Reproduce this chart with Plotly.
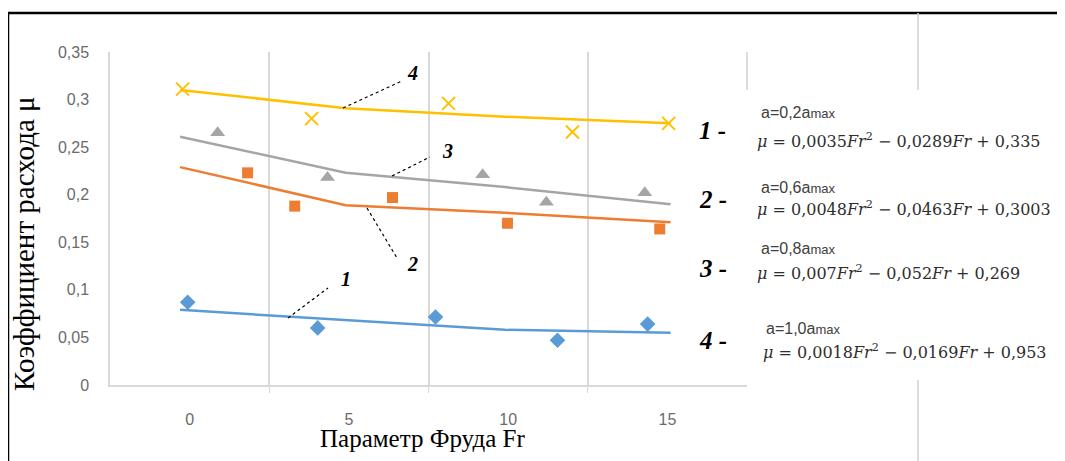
import plotly.graph_objects as go

# ---------------- data ----------------
x_ticks = [0, 5, 10, 15]
x_tick_labels = ["0", "5", "10", "15"]
y_ticks = [0, 0.05, 0.1, 0.15, 0.2, 0.25, 0.3, 0.35]
y_tick_labels = ["0", "0,05", "0,1", "0,15", "0,2", "0,25", "0,3", "0,35"]

# measured points
s1_x = [-0.06, 4.02, 7.72, 11.55, 14.38]      # blue diamonds
s1_y = [0.087, 0.060, 0.0715, 0.047, 0.064]
s2_x = [1.82, 3.3, 6.37, 9.98, 14.76]         # orange squares
s2_y = [0.223, 0.188, 0.197, 0.170, 0.164]
s3_x = [0.88, 4.33, 9.2, 11.2, 14.29]         # gray triangles
s3_y = [0.265, 0.218, 0.221, 0.192, 0.202]
s4_x = [-0.22, 3.83, 8.13, 12.02, 15.04]      # yellow crosses
s4_y = [0.311, 0.280, 0.296, 0.266, 0.275]

# trend lines
trend_x = [-0.3, 4.9, 9.9, 15.1]
t1_y = [0.079, 0.068, 0.058, 0.055]
t2_y = [0.229, 0.189, 0.181, 0.171]
t3_y = [0.261, 0.223, 0.208, 0.190]
t4_y = [0.310, 0.291, 0.282, 0.275]

curve_labels = ["1", "2", "3", "4"]
a_labels = ["a=0,2a", "a=0,6a", "a=0,8a", "a=1,0a"]
equations = [
    "<i>μ</i> = 0,0035<i>Fr</i><sup>2</sup> − 0,0289<i>Fr</i> + 0,335",
    "<i>μ</i> = 0,0048<i>Fr</i><sup>2</sup> − 0,0463<i>Fr</i> + 0,3003",
    "<i>μ</i> = 0,007<i>Fr</i><sup>2</sup> − 0,052<i>Fr</i> + 0,269",
    "<i>μ</i> = 0,0018<i>Fr</i><sup>2</sup> − 0,0169<i>Fr</i> + 0,953",
]

BLUE, ORANGE, GRAY, YELLOW = "#5B9BD5", "#ED7D31", "#A5A5A5", "#FFC000"

# ---------------- layout geometry (page pixels) ----------------
OFF = 8                      # default page body margin
W, H = 1065 - OFF, 461 - OFF
L, R, T, B = 110, 747, 52, 385   # plot area in page pixels


def px(x):
    return (x - L) / (R - L)


def py(y):
    return (B - y) / (B - T)


fig = go.Figure()

for tx, ty, c in [(trend_x, t1_y, BLUE), (trend_x, t2_y, ORANGE),
                  (trend_x, t3_y, GRAY), (trend_x, t4_y, YELLOW)]:
    fig.add_trace(go.Scatter(x=tx, y=ty, mode="lines",
                             line=dict(color=c, width=2.5), hoverinfo="skip"))

fig.add_trace(go.Scatter(x=s1_x, y=s1_y, mode="markers",
                         marker=dict(symbol="diamond", size=12, color=BLUE)))
fig.add_trace(go.Scatter(x=s2_x, y=s2_y, mode="markers",
                         marker=dict(symbol="square", size=11, color=ORANGE)))
fig.add_trace(go.Scatter(x=s3_x, y=s3_y, mode="markers",
                         marker=dict(symbol="triangle-up", size=13, color=GRAY)))
fig.add_trace(go.Scatter(x=s4_x, y=s4_y, mode="markers",
                         marker=dict(symbol="x-thin", size=13,
                                     line=dict(width=2, color=YELLOW))))

tick_font = dict(family="Liberation Sans", size=16, color="#6b6b6b")

fig.update_layout(
    width=W, height=H,
    margin=dict(l=L - OFF, r=W - (R - OFF), t=T - OFF, b=H - (B - OFF)),
    paper_bgcolor="white", plot_bgcolor="white",
    showlegend=False,
    xaxis=dict(range=[-2.5, 17.5], tickvals=x_ticks, ticktext=x_tick_labels,
               showgrid=False, zeroline=False, showline=True,
               linecolor="#d9d9d9", linewidth=1.5, ticks="",
               tickfont=tick_font, ticklabelstandoff=19,
               minor=dict(tickvals=[2.5, 7.5, 12.5], showgrid=True,
                          gridcolor="#d9d9d9", gridwidth=1.5,
                          ticks="outside", ticklen=6, tickcolor="#d9d9d9")),
    yaxis=dict(range=[0, 0.35], tickvals=y_ticks, ticktext=y_tick_labels,
               showgrid=False, zeroline=False, showline=True,
               linecolor="#d9d9d9", linewidth=1.5, ticks="",
               tickfont=tick_font, ticklabelstandoff=16),
)

shapes = []
# outer black frame (top and left)
shapes.append(dict(type="line", xref="paper", yref="paper",
                   x0=px(8), y0=py(13), x1=px(1065), y1=py(13),
                   line=dict(color="black", width=2.5)))
shapes.append(dict(type="line", xref="paper", yref="paper",
                   x0=px(8), y0=py(13), x1=px(8), y1=py(461),
                   line=dict(color="black", width=2.5)))
# light gray separators
for (x0, y0, x1, y1) in [(918, 13, 918, 90), (918, 380, 918, 461), (747, 52, 747, 90)]:
    shapes.append(dict(type="line", xref="paper", yref="paper",
                       x0=px(x0), y0=py(y0), x1=px(x1), y1=py(y1),
                       line=dict(color="#d0d0d0", width=1.5)))
# leader lines
leaders = [((288, 318), (328, 288)), ((367, 208), (397, 258)),
           ((392, 176), (430, 157)), ((343, 108), (402, 81))]
for (a, b) in leaders:
    shapes.append(dict(type="line", xref="paper", yref="paper",
                       x0=px(a[0]), y0=py(a[1]), x1=px(b[0]), y1=py(b[1]),
                       line=dict(color="black", width=1.2, dash="dot")))
fig.update_layout(shapes=shapes)

ann = []


def text(x, y, s, font, xanchor="left", angle=0):
    ann.append(dict(xref="paper", yref="paper", x=px(x), y=py(y), text=s,
                    showarrow=False, xanchor=xanchor, yanchor="middle",
                    font=font, textangle=angle))


num_font = dict(family="Liberation Serif", size=20, color="black",
                weight="bold", style="italic")
label_pos = [(346, 279), (412, 264), (447, 151), (412, 73)]
for lab, (x, y) in zip(curve_labels, label_pos):
    text(x, y, lab, num_font, xanchor="center")

side_font = dict(family="Liberation Serif", size=25, color="black",
                 weight="bold", style="italic")
side_y = [130, 199, 268, 340]
for lab, y in zip(curve_labels, side_y):
    text(697, y, lab + " -", side_font)

a_font = dict(family="Liberation Sans", size=16, color="#404040")
a_pos = [(759, 112), (759, 187), (759, 248), (764, 328)]
for lab, (x, y) in zip(a_labels, a_pos):
    text(x, y, lab + "<span style='font-size:13px'>max</span>", a_font)

eq_font = dict(family="DejaVu Serif", size=16, color="#2e2e2e")
eq_pos = [(755, 140), (755, 208), (755, 272), (761, 351)]
for eq, (x, y) in zip(equations, eq_pos):
    text(x, y, eq, eq_font)

# axis titles
text(24, 244, "Коэффициент расхода μ",
     dict(family="Liberation Serif", size=29, color="black"),
     xanchor="center", angle=-90)
text(422, 438, "Параметр Фруда Fr",
     dict(family="Liberation Serif", size=25, color="black"), xanchor="center")

fig.update_layout(annotations=ann)

fig.write_html("out.html")
